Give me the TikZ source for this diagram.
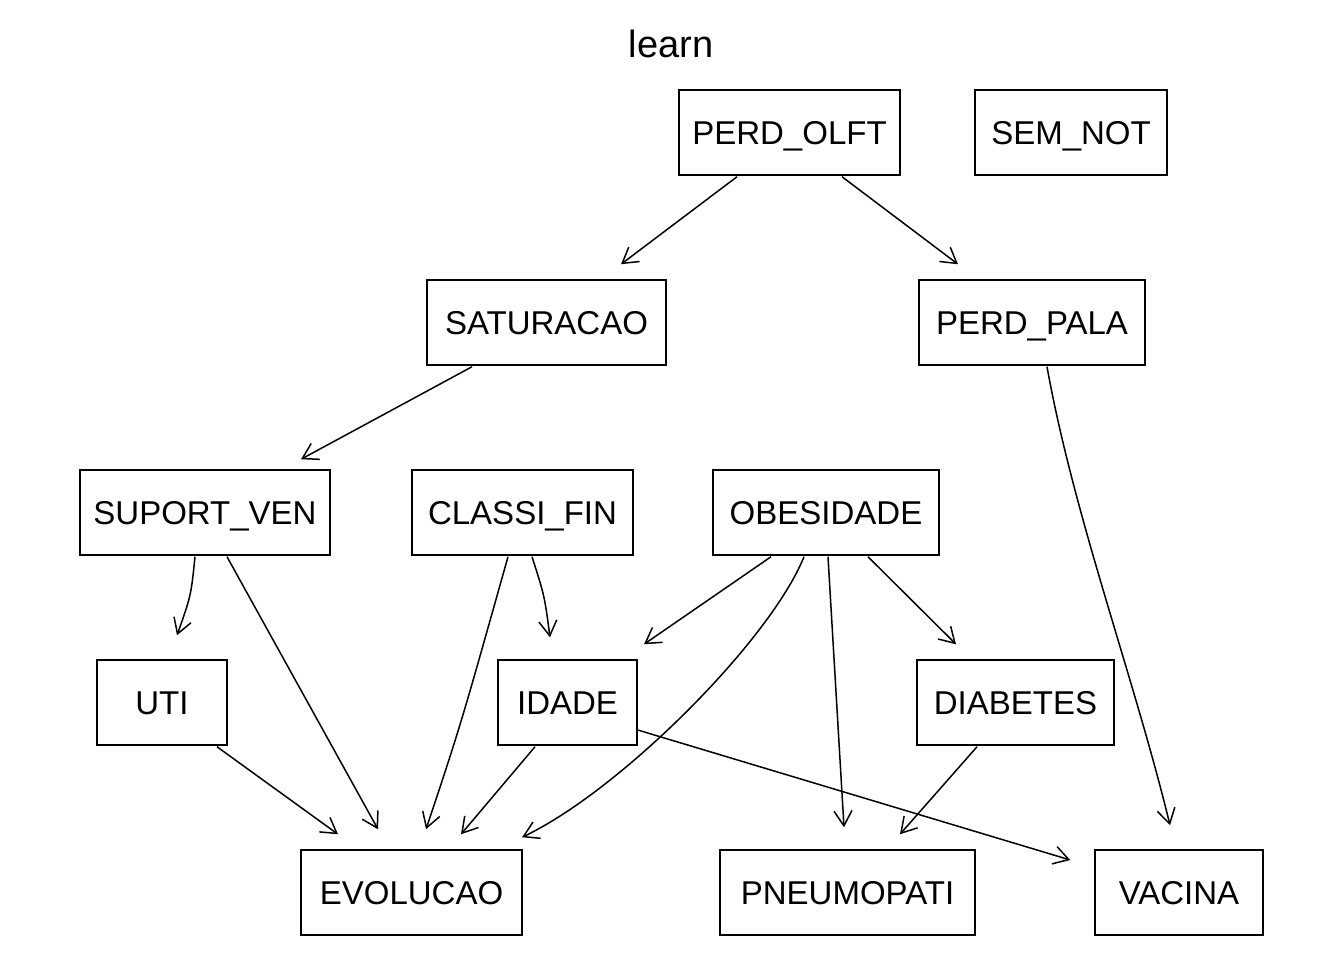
\documentclass[tikz,border=0pt]{standalone}
\usepackage{fontspec}
\setmainfont{Liberation Sans}
\usetikzlibrary{arrows.meta,calc}
\begin{document}
\begin{tikzpicture}[x=1pt,y=-1pt,
  box/.style={draw, line width=1.5pt, minimum height=85pt, inner sep=0pt, text height=24pt, text depth=0pt, font=\fontsize{33}{40}\selectfont},
  edge/.style={line width=1.5pt, -{Straight Barb[length=15pt,width=18pt,line width=1.5pt]}}]
\useasboundingbox (0,0) rectangle (1344,960);
\node[font=\fontsize{38}{44}\selectfont] (title) at (671,44) {learn};
\node[box, minimum width=221pt] (pol) at (789.5,132.5) {PERD\_OLFT};
\node[box, minimum width=192pt] (sem) at (1071,132.5) {SEM\_NOT};
\node[box, minimum width=239pt] (sat) at (546.5,322.5) {SATURACAO};
\node[box, minimum width=226pt] (pp) at (1032,322.5) {PERD\_PALA};
\node[box, minimum width=250pt] (sv) at (205,512.5) {SUPORT\_VEN};
\node[box, minimum width=221pt] (cf) at (522.5,512.5) {CLASSI\_FIN};
\node[box, minimum width=226pt] (ob) at (826,512.5) {OBESIDADE};
\node[box, minimum width=130pt] (uti) at (162,702.5) {UTI};
\node[box, minimum width=139pt] (ida) at (567.5,702.5) {IDADE};
\node[box, minimum width=197pt] (dia) at (1015.5,702.5) {DIABETES};
\node[box, minimum width=221pt] (evo) at (411.5,892.5) {EVOLUCAO};
\node[box, minimum width=255pt] (pne) at (847.5,892.5) {PNEUMOPATI};
\node[box, minimum width=168pt] (vac) at (1179,892.5) {VACINA};

\draw[edge] ($(pol.south)+(-52.5,1)$) -- ($(sat.north)+(74.5,-15)$);
\draw[edge] ($(pol.south)+(52.5,1)$) -- ($(pp.north)+(-74,-15)$);
\draw[edge] ($(sat.south)+(-74.5,1)$) -- ($(sv.north)+(96,-10)$);
\draw[edge] ($(sv.south)+(-10,1)$) .. controls ($(sv.south)+(-14,40)$) .. ($(uti.north)+(15,-24)$);
\draw[edge] ($(sv.south)+(22,1)$) -- ($(evo.north)+(-33.5,-20)$);
\draw[edge] ($(cf.south)+(-14.5,1)$) .. controls ($(cf.south)+(-62,170)$) .. ($(evo.north)+(14.5,-20)$);
\draw[edge] ($(cf.south)+(9.5,1)$) .. controls ($(cf.south)+(22,40)$) .. ($(ida.north)+(-17.5,-22)$);
\draw[edge] ($(ob.south)+(-55,1)$) -- ($(ida.north)+(76.5,-15)$);
\draw[edge] ($(ob.south)+(-22,1)$) .. controls ($(ob.south)+(-56,85)$) and ($(ob.south)+(-206,235)$) .. ($(evo.north)+(110.5,-12)$);
\draw[edge] ($(ob.south)+(2,1)$) -- ($(pne.north)+(-3.5,-22)$);
\draw[edge] ($(ob.south)+(42,1)$) -- ($(dia.north)+(-59.5,-15)$);
\draw[edge] ($(pp.south)+(15,1)$) .. controls ($(pp.south)+(42,151)$) and ($(vac.north)+(-45,-172)$) .. ($(vac.north)+(-9,-24)$);
\draw[edge] ($(uti.south)+(55,1)$) -- ($(evo.north)+(-73.5,-15)$);
\draw[edge] ($(ida.south)+(-32.5,1)$) -- ($(evo.north)+(49.5,-15)$);
\draw[edge] ($(ida.east)+(0,27.5)$) -- ($(vac.west)+(-24,-32.5)$);
\draw[edge] ($(dia.south)+(-38.5,1)$) -- ($(pne.north)+(52.5,-15)$);
\end{tikzpicture}
\end{document}
